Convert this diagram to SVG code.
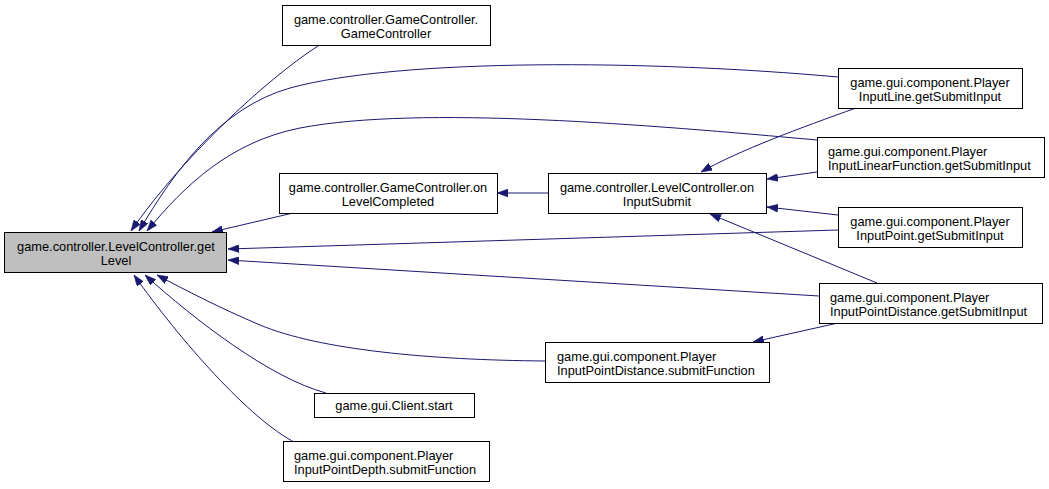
<svg xmlns="http://www.w3.org/2000/svg" width="1049" height="489" viewBox="0 0 1049 489">
<style>
.box{fill:#ffffff;stroke:#000000;stroke-width:1}
.main{fill:#bfbfbf;stroke:#000000;stroke-width:1}
text{font-family:"Liberation Sans",Arial,sans-serif;font-size:12.8px;fill:#000000}
.c{text-anchor:middle}
.l{text-anchor:start}
.e{fill:none;stroke:#191970;stroke-width:1;marker-end:url(#ah)}
</style>
<defs>
<marker id="ah" markerUnits="userSpaceOnUse" markerWidth="11" markerHeight="8" refX="11" refY="4" orient="auto">
<path d="M0,0 L11,4 L0,8 z" fill="#191970" stroke="#191970" stroke-width="0.5"/>
</marker>
</defs>
<rect width="1049" height="489" fill="#ffffff"/>
<g id="connectors">
<path class="e" d="M318,46 C265,80 180,160 131,231"/>
<path class="e" d="M838,77 C650,60 400,58 290,88 C220,108 175,170 139,231"/>
<path class="e" d="M817,140 C650,125 420,105 300,128 C230,142 185,185 147,231"/>
<path class="e" d="M293,213 L212,232"/>
<path class="e" d="M838,230 L228,249"/>
<path class="e" d="M819,296 L228,260"/>
<path class="e" d="M545,361 C430,360 320,350 260,325 C220,308 185,290 157,275"/>
<path class="e" d="M326,393 C270,378 195,320 145,275"/>
<path class="e" d="M296,443 C250,420 180,340 134,275"/>
<path class="e" d="M548,193 L497,193"/>
<path class="e" d="M856,108 C800,128 740,150 701,172"/>
<path class="e" d="M817,172 L767,179"/>
<path class="e" d="M838,215 L767,207"/>
<path class="e" d="M877,283 L710,214"/>
<path class="e" d="M838,323 L753,342"/>
</g>
<g id="getLevel">
<rect class="main" x="4.5" y="232.5" width="222" height="40"/>
<text class="c" x="116" y="251">game.controller.LevelController.get</text>
<text class="c" x="116" y="265">Level</text>
</g>
<g id="GameController">
<rect class="box" x="282.5" y="5.5" width="208" height="40"/>
<text class="c" x="386" y="24">game.controller.GameController.</text>
<text class="c" x="386" y="38">GameController</text>
</g>
<g id="onLevelCompleted">
<rect class="box" x="279.5" y="173.5" width="218" height="40"/>
<text class="c" x="388" y="192">game.controller.GameController.on</text>
<text class="c" x="388" y="206">LevelCompleted</text>
</g>
<g id="onInputSubmit">
<rect class="box" x="548.5" y="173.5" width="218" height="40"/>
<text class="c" x="657" y="192">game.controller.LevelController.on</text>
<text class="c" x="657" y="206">InputSubmit</text>
</g>
<g id="PlayerInputLine">
<rect class="box" x="838.5" y="68.5" width="184" height="40"/>
<text class="c" x="930" y="87">game.gui.component.Player</text>
<text class="c" x="930" y="101">InputLine.getSubmitInput</text>
</g>
<g id="PlayerInputLinearFunction">
<rect class="box" x="817.5" y="137.5" width="227" height="40"/>
<text class="l" x="828" y="156">game.gui.component.Player</text>
<text class="l" x="828" y="170">InputLinearFunction.getSubmitInput</text>
</g>
<g id="PlayerInputPoint">
<rect class="box" x="838.5" y="207.5" width="184" height="40"/>
<text class="c" x="930" y="226">game.gui.component.Player</text>
<text class="c" x="930" y="240">InputPoint.getSubmitInput</text>
</g>
<g id="PlayerInputPointDistanceGet">
<rect class="box" x="819.5" y="283.5" width="223" height="40"/>
<text class="l" x="830" y="302">game.gui.component.Player</text>
<text class="l" x="830" y="316">InputPointDistance.getSubmitInput</text>
</g>
<g id="PlayerInputPointDistanceSubmit">
<rect class="box" x="545.5" y="342.5" width="224" height="40"/>
<text class="l" x="557" y="361">game.gui.component.Player</text>
<text class="l" x="557" y="375">InputPointDistance.submitFunction</text>
</g>
<g id="ClientStart">
<rect class="box" x="314.5" y="393.5" width="160" height="24"/>
<text class="c" x="394" y="410">game.gui.Client.start</text>
</g>
<g id="PlayerInputPointDepth">
<rect class="box" x="283.5" y="441.5" width="206" height="40"/>
<text class="l" x="294" y="460">game.gui.component.Player</text>
<text class="l" x="294" y="474">InputPointDepth.submitFunction</text>
</g>
</svg>
